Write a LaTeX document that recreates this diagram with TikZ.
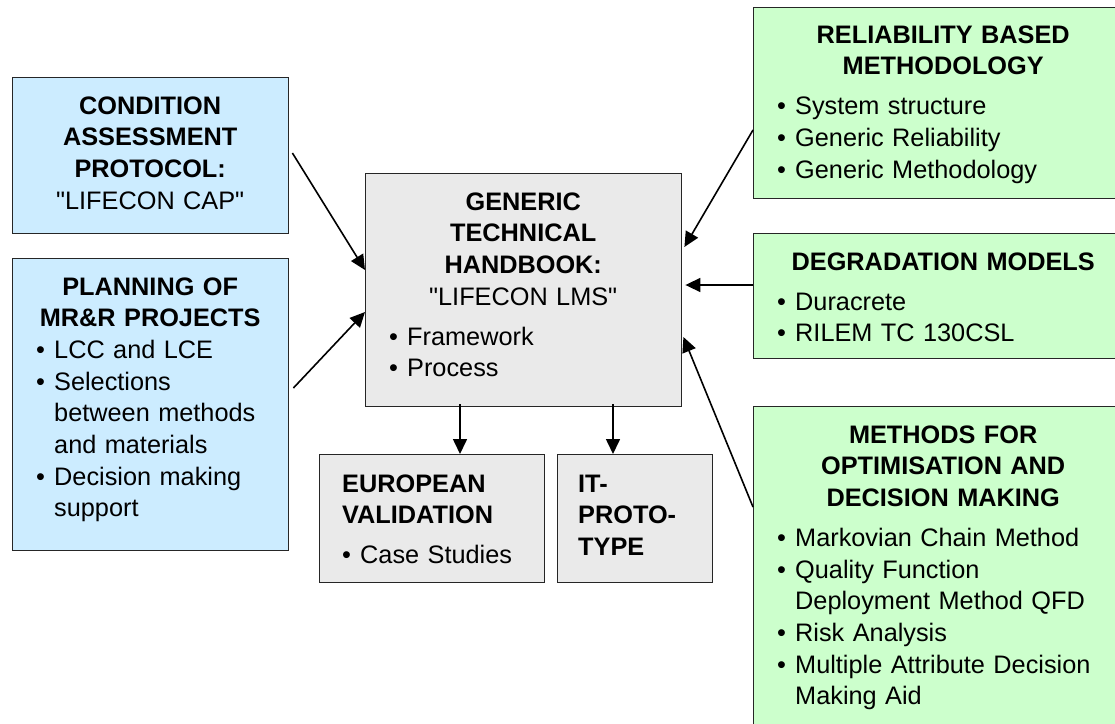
\documentclass[tikz,border=0pt]{standalone}
\usepackage{fontspec}
\setmainfont{Liberation Sans}[Ligatures=TeXOff]
\usetikzlibrary{arrows.meta,calc}
\definecolor{boxblue}{RGB}{204,236,255}
\definecolor{boxgreen}{RGB}{204,255,204}
\definecolor{boxgrey}{RGB}{234,234,234}
\newcommand\hdr[1]{{\centering\bfseries #1\par}}
\newcommand\bl[2][42pt]{{\leftskip=#1\noindent\llap{\makebox[18pt][l]{\textbullet}}#2\par}}
\newcommand\gap{\vspace{8.3pt}}
\tikzset{
  box/.style={draw=black!85, line width=1.4pt, inner sep=0pt, anchor=north west},
  bluebox/.style={box, fill=boxblue},
  greenbox/.style={box, fill=boxgreen},
  greybox/.style={box, fill=boxgrey},
  txt/.style={anchor=base west, inner sep=0pt, align=left, font=\fontsize{25.3}{31.7}\selectfont},
  arr/.style={line width=1.6pt, -{Triangle[length=15pt,width=14pt]}}
}
\begin{document}
\begin{tikzpicture}[x=1pt,y=-1pt]
\useasboundingbox (0,0) rectangle (1115,723);
\clip (0,0) rectangle (1115,723);
% boxes
\node[bluebox, minimum width=276pt, minimum height=156pt] (cap) at (12,77) {};
\node[bluebox, minimum width=276pt, minimum height=292pt] (plan) at (12,258) {};
\node[greybox, minimum width=316pt, minimum height=233pt] (center) at (365,173) {};
\node[greybox, minimum width=225pt, minimum height=128pt] (eu) at (319,454) {};
\node[greybox, minimum width=155pt, minimum height=128pt] (it) at (557,454) {};
\node[greenbox, minimum width=380pt, minimum height=191pt] (rel) at (753,7) {};
\node[greenbox, minimum width=380pt, minimum height=125pt] (deg) at (753,233) {};
\node[greenbox, minimum width=380pt, minimum height=330pt] (meth) at (753,406) {};
% texts
\node[txt, text width=276pt] (capT) at (12,114) {\hdr{CONDITION\\ASSESSMENT\\PROTOCOL:}{\centering "LIFECON CAP"\par}};
\node[txt, text width=276pt] (planT) at (12,295) {\hdr{PLANNING OF\\MR\&R PROJECTS}
  \bl{LCC and LCE}
  \bl{Selections\\between methods\\and materials}
  \bl{Decision making\\support}};
\node[txt, text width=316pt] (centerT) at (365,210) {\hdr{GENERIC\\TECHNICAL\\HANDBOOK:}{\centering "LIFECON LMS"\par}\gap
  \bl{Framework}
  \bl{Process}};
\node[txt, text width=200pt] (euT) at (342,492) {{\bfseries EUROPEAN\\VALIDATION\par}\gap
  \bl[18pt]{Case Studies}};
\node[txt, text width=130pt] (itT) at (578,492) {{\bfseries IT-\\PROTO-\\TYPE\par}};
\node[txt, text width=380pt] (relT) at (753,43) {\hdr{RELIABILITY BASED\\METHODOLOGY}\gap
  \bl{System structure}
  \bl{Generic Reliability}
  \bl{Generic Methodology}};
\node[txt, text width=380pt] (degT) at (753,270) {\hdr{DEGRADATION MODELS}\gap
  \bl{Duracrete}
  \bl{RILEM TC 130CSL}};
\node[txt, text width=380pt] (methT) at (753,443) {\hdr{METHODS FOR\\OPTIMISATION AND\\DECISION MAKING}\gap
  \bl{Markovian Chain Method}
  \bl{Quality Function\\Deployment Method QFD}
  \bl{Risk Analysis}
  \bl{Multiple Attribute Decision\\Making Aid}};
% arrows
\draw[arr] ($(cap.north east)+(3,76)$) -- ($(center.north west)+(0,97)$);
\draw[arr] ($(plan.north east)+(4,130)$) -- ($(center.north west)+(0,139)$);
\draw[arr] ($(rel.north west)+(0,123)$) -- ($(center.north east)+(2,74)$);
\draw[arr] ($(deg.north west)+(0,52)$) -- ($(center.north east)+(3,112)$);
\draw[arr] ($(meth.north west)+(0,101)$) -- ($(center.north east)+(1,164)$);
\draw[arr] ($(center.south west)+(95,-3)$) -- ($(eu.north west)+(141,0)$);
\draw[arr] ($(center.south west)+(248,-3)$) -- ($(it.north west)+(56,0)$);
\end{tikzpicture}
\end{document}
